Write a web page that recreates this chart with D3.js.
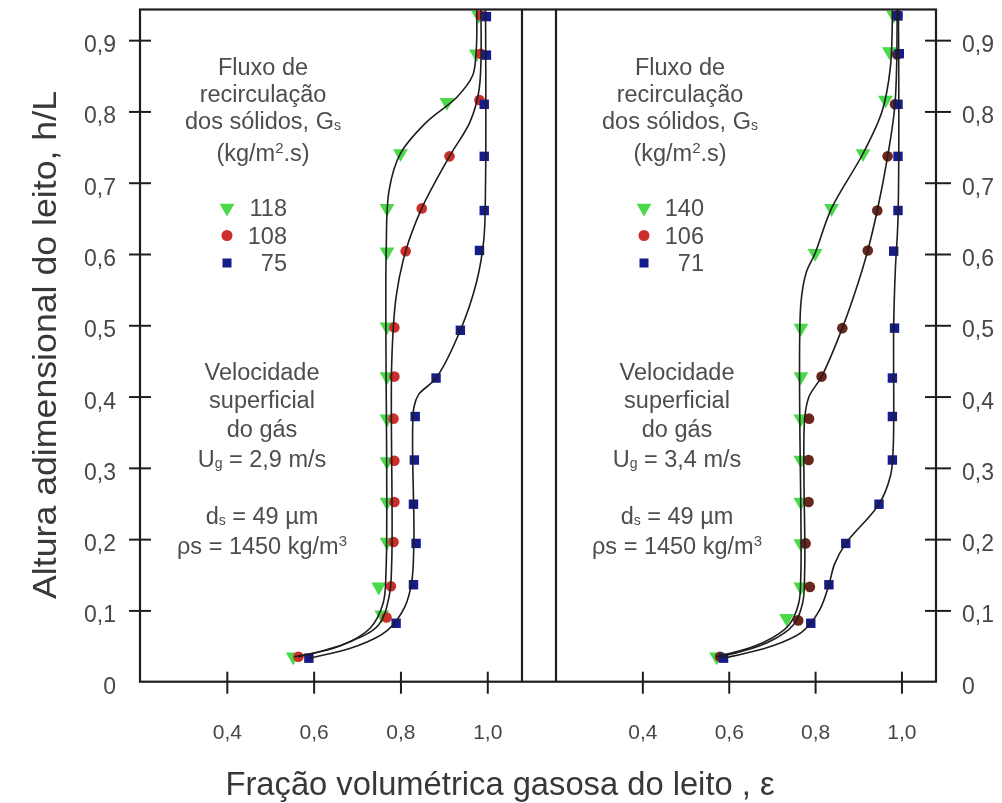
<!DOCTYPE html>
<html>
<head>
<meta charset="utf-8">
<script src="https://cdn.jsdelivr.net/npm/d3@7"></script>
<style>
  html, body { margin: 0; padding: 0; background: #fff; }
  svg { display: block; font-family: "Liberation Sans", Arial, Helvetica, sans-serif; }
</style>
</head>
<body>
<svg id="chart" width="1002" height="803"></svg>
<script>
// Void fraction (epsilon) versus dimensionless bed height (h/L), two gas velocities.

// ---- tick labels ----
const xTicks = [0.4, 0.6, 0.8, 1.0];
const xTickLabels = ["0,4", "0,6", "0,8", "1,0"];
const yTicks = [0, 0.1, 0.2, 0.3, 0.4, 0.5, 0.6, 0.7, 0.8, 0.9];
const yTickLabels = ["0", "0,1", "0,2", "0,3", "0,4", "0,5", "0,6", "0,7", "0,8", "0,9"];

// ---- series names (solids flux Gs, kg/m2.s) ----
const fluxLeft = ["118", "108", "75"];
const fluxRight = ["140", "106", "71"];

// ---- measured points [epsilon, h/L], Ug = 2,9 m/s ----
const ptsL118 = [[0.553,0.035],[0.757,0.094],[0.750,0.133],[0.769,0.196],[0.769,0.252],[0.769,0.309],[0.769,0.369],[0.769,0.428],[0.769,0.498],[0.769,0.603],[0.769,0.664],[0.800,0.741],[0.907,0.813],[0.975,0.881],[0.980,0.935]];
const ptsL108 = [[0.565,0.035],[0.768,0.090],[0.778,0.134],[0.784,0.196],[0.786,0.252],[0.786,0.310],[0.784,0.369],[0.786,0.428],[0.786,0.497],[0.812,0.604],[0.849,0.664],[0.913,0.737],[0.982,0.816],[0.985,0.881],[0.985,0.935]];
const ptsL75  = [[0.589,0.033],[0.790,0.082],[0.830,0.136],[0.836,0.194],[0.830,0.249],[0.832,0.311],[0.834,0.372],[0.882,0.426],[0.938,0.493],[0.982,0.605],[0.993,0.661],[0.993,0.737],[0.993,0.810],[0.998,0.879],[0.998,0.933]];

// ---- fitted profiles [epsilon, h/L], Ug = 2,9 m/s ----
const fitL118 = [[0.556,0.035],[0.66,0.050],[0.73,0.075],[0.760,0.110],[0.767,0.160],[0.767,0.600],[0.774,0.690],[0.800,0.741],[0.860,0.785],[0.930,0.820],[0.966,0.850],[0.974,0.880],[0.976,0.943]];
const fitL108 = [[0.565,0.035],[0.68,0.055],[0.750,0.080],[0.774,0.120],[0.780,0.170],[0.780,0.450],[0.790,0.540],[0.812,0.604],[0.849,0.664],[0.913,0.737],[0.960,0.785],[0.981,0.830],[0.985,0.943]];
const fitL75  = [[0.589,0.033],[0.70,0.050],[0.770,0.072],[0.810,0.105],[0.826,0.140],[0.831,0.200],[0.831,0.385],[0.842,0.403],[0.882,0.426],[0.938,0.493],[0.975,0.560],[0.992,0.620],[0.996,0.700],[0.996,0.943]];

// ---- measured points [epsilon, h/L], Ug = 3,4 m/s ----
const ptsR140 = [[0.572,0.035],[0.734,0.089],[0.767,0.133],[0.767,0.194],[0.767,0.252],[0.767,0.311],[0.767,0.369],[0.767,0.428],[0.767,0.496],[0.800,0.601],[0.838,0.664],[0.911,0.741],[0.963,0.816],[0.972,0.884],[0.982,0.935]];
const ptsR106 = [[0.580,0.035],[0.761,0.086],[0.788,0.133],[0.778,0.194],[0.785,0.252],[0.785,0.311],[0.786,0.369],[0.815,0.428],[0.863,0.496],[0.922,0.605],[0.944,0.661],[0.968,0.737],[0.985,0.810],[0.990,0.880],[0.990,0.935]];
const ptsR71  = [[0.588,0.033],[0.790,0.082],[0.832,0.136],[0.871,0.194],[0.948,0.249],[0.979,0.311],[0.979,0.372],[0.979,0.426],[0.984,0.496],[0.982,0.604],[0.992,0.661],[0.992,0.737],[0.992,0.810],[0.995,0.881],[0.992,0.934]];

// ---- fitted profiles [epsilon, h/L], Ug = 3,4 m/s ----
const fitR140 = [[0.572,0.035],[0.68,0.055],[0.740,0.080],[0.762,0.110],[0.767,0.150],[0.767,0.530],[0.780,0.575],[0.800,0.601],[0.838,0.664],[0.911,0.741],[0.955,0.800],[0.974,0.860],[0.979,0.943]];
const fitR106 = [[0.580,0.035],[0.69,0.055],[0.750,0.080],[0.771,0.110],[0.776,0.160],[0.776,0.370],[0.786,0.400],[0.815,0.428],[0.863,0.496],[0.900,0.560],[0.922,0.605],[0.944,0.661],[0.968,0.737],[0.985,0.810],[0.990,0.943]];
const fitR71  = [[0.588,0.033],[0.70,0.050],[0.770,0.070],[0.810,0.100],[0.832,0.136],[0.845,0.165],[0.871,0.194],[0.948,0.249],[0.975,0.290],[0.981,0.330],[0.982,0.500],[0.986,0.580],[0.992,0.650],[0.993,0.943]];

const svg = d3.select("#chart");

// geometry
const plotTop = 9.5, plotBottom = 681.7;
const y = d3.scaleLinear().domain([0, 0.943]).range([plotBottom, plotTop]);
const xL = d3.scaleLinear().domain([0.2, 1.08]).range([140, 522]);
const xR = d3.scaleLinear().domain([0.2, 1.08]).range([556, 936]);

const ink = "#1e1e1e";
const labelInk = "#474747";
const textInk = "#4d4d4d";
const green = "#48d948", red = "#cc2e2a", darkRed = "#6a281c", blue = "#151a8c";
const fontStack = "Liberation Sans, Arial, sans-serif";

// soft rendering filter for marks
const defs = svg.append("defs");
defs.append("filter").attr("id", "soft").attr("x", "-20%").attr("y", "-20%").attr("width", "140%").attr("height", "140%")
  .append("feGaussianBlur").attr("stdDeviation", 0.6);
defs.append("filter").attr("id", "softText").attr("x", "-5%").attr("y", "-20%").attr("width", "110%").attr("height", "140%")
  .append("feGaussianBlur").attr("stdDeviation", 0.5);

// ---- frame ----
const frame = svg.append("g").attr("stroke", ink).attr("stroke-width", 2.2).attr("fill", "none");
frame.append("rect").attr("x", xL.range()[0]).attr("y", plotTop).attr("width", xR.range()[1] - xL.range()[0]).attr("height", plotBottom - plotTop);
frame.append("line").attr("x1", xL.range()[1]).attr("x2", xL.range()[1]).attr("y1", plotTop).attr("y2", plotBottom);
frame.append("line").attr("x1", xR.range()[0]).attr("x2", xR.range()[0]).attr("y1", plotTop).attr("y2", plotBottom);

// ---- x axes ----
function xAxis(scale) {
  const g = svg.append("g").attr("transform", `translate(0,${plotBottom})`);
  g.call(d3.axisBottom(scale).tickValues(xTicks).tickSize(12)
      .tickFormat((d, i) => xTickLabels[i]));
  g.select(".domain").remove();
  g.selectAll(".tick line").attr("stroke", ink).attr("stroke-width", 2).attr("y1", -10).attr("y2", 12);
  g.selectAll(".tick text").attr("fill", labelInk).attr("font-size", 21).attr("y", 0).attr("dy", 57)
    .attr("font-family", fontStack).attr("filter", "url(#softText)");
}
xAxis(xL);
xAxis(xR);

// ---- y axes (left and right) ----
const gl = svg.append("g").attr("transform", `translate(${xL.range()[0]},0)`);
gl.call(d3.axisLeft(y).tickValues(yTicks).tickSize(11).tickFormat((d, i) => yTickLabels[i]));
gl.select(".domain").remove();
gl.selectAll(".tick line").attr("stroke", ink).attr("stroke-width", 2).attr("x2", d => d > 0 ? -11 : 0).attr("x1", d => d > 0 ? 11 : 0);
gl.selectAll(".tick text").attr("fill", labelInk).attr("font-size", 23).attr("x", -24).attr("dy", "0.5em")
  .attr("font-family", fontStack).attr("filter", "url(#softText)");

const gr = svg.append("g").attr("transform", `translate(${xR.range()[1]},0)`);
gr.call(d3.axisRight(y).tickValues(yTicks).tickSize(11).tickFormat((d, i) => yTickLabels[i]));
gr.select(".domain").remove();
gr.selectAll(".tick line").attr("stroke", ink).attr("stroke-width", 2).attr("x1", d => d > 0 ? -11 : 0).attr("x2", d => d > 0 ? 15 : 0);
gr.selectAll(".tick text").attr("fill", labelInk).attr("font-size", 23).attr("x", 26).attr("dy", "0.5em")
  .attr("font-family", fontStack).attr("filter", "url(#softText)");

// ---- markers ----
const triDown = d3.symbol().type(d3.symbolTriangle).size(95);
function drawPoints(pts, scale, shape, color) {
  const g = svg.append("g").attr("filter", "url(#soft)");
  pts.forEach(([e, h]) => {
    const cx = scale(e), cy = y(h);
    if (shape === "tri") {
      g.append("path").attr("d", triDown()).attr("transform", `translate(${cx},${cy}) rotate(180)`).attr("fill", color);
    } else if (shape === "circ") {
      g.append("circle").attr("cx", cx).attr("cy", cy).attr("r", 5.3).attr("fill", color);
    } else {
      g.append("rect").attr("x", cx - 4.7).attr("y", cy - 4.7).attr("width", 9.4).attr("height", 9.4).attr("fill", color);
    }
  });
}

// ---- fitted curves ----
function drawFit(fit, scale) {
  const line = d3.line().x(d => scale(d[0])).y(d => y(d[1])).curve(d3.curveCatmullRom.alpha(0.5));
  svg.append("path").attr("d", line(fit)).attr("fill", "none").attr("stroke", ink).attr("stroke-width", 1.6);
}

drawPoints(ptsL118, xL, "tri", green);
drawPoints(ptsL108, xL, "circ", red);
drawPoints(ptsL75, xL, "sq", blue);
drawPoints(ptsR140, xR, "tri", green);
drawPoints(ptsR106, xR, "circ", darkRed);
drawPoints(ptsR71, xR, "sq", blue);

[fitL118, fitL108, fitL75].forEach(f => drawFit(f, xL));
[fitR140, fitR106, fitR71].forEach(f => drawFit(f, xR));

// ---- annotation blocks ----
function textBlock(cx, lines) {
  const g = svg.append("g").attr("fill", textInk).attr("font-size", 23.5).attr("text-anchor", "middle").attr("filter", "url(#softText)");
  lines.forEach(l => {
    const t = g.append("text").attr("x", cx).attr("y", l.y);
    l.parts.forEach(p => {
      const s = t.append("tspan").text(p.t);
      if (p.sub) s.attr("font-size", 14).attr("baseline-shift", "-1");
      if (p.sup) s.attr("font-size", 15).attr("baseline-shift", "8");
    });
  });
}

function legend(cx, names, colors) {
  textBlock(cx, [
    { y: 75, parts: [{ t: "Fluxo de" }] },
    { y: 102, parts: [{ t: "recirculação" }] },
    { y: 129, parts: [{ t: "dos sólidos, G" }, { t: "s", sub: true }] },
    { y: 161, parts: [{ t: "(kg/m" }, { t: "2", sup: true }, { t: ".s)" }] }
  ]);
  const shapes = ["tri", "circ", "sq"];
  const g = svg.append("g").attr("filter", "url(#softText)");
  names.forEach((n, i) => {
    const yy = 208 + i * 27.5;
    const mx = cx - 36;
    if (shapes[i] === "tri") g.append("path").attr("d", triDown()).attr("transform", `translate(${mx},${yy}) rotate(180)`).attr("fill", colors[i]);
    else if (shapes[i] === "circ") g.append("circle").attr("cx", mx).attr("cy", yy).attr("r", 5.5).attr("fill", colors[i]);
    else g.append("rect").attr("x", mx - 4.5).attr("y", yy - 4.5).attr("width", 9).attr("height", 9).attr("fill", colors[i]);
    g.append("text").attr("x", cx + 24).attr("y", yy).attr("dy", "0.36em").attr("text-anchor", "end")
      .attr("font-size", 23.5).attr("fill", textInk).text(n);
  });
}

legend(263, fluxLeft, [green, red, blue]);
legend(680, fluxRight, [green, red, blue]);

function conditions(cx, ug) {
  textBlock(cx, [
    { y: 380, parts: [{ t: "Velocidade" }] },
    { y: 408, parts: [{ t: "superficial" }] },
    { y: 437, parts: [{ t: "do gás" }] },
    { y: 467, parts: [{ t: "U" }, { t: "g", sub: true }, { t: " = " + ug + " m/s" }] },
    { y: 524, parts: [{ t: "d" }, { t: "s", sub: true }, { t: " = 49 µm" }] },
    { y: 554, parts: [{ t: "ρs = 1450 kg/m" }, { t: "3", sup: true }] }
  ]);
}
conditions(262, "2,9");
conditions(677, "3,4");

// ---- axis titles ----
svg.append("text").attr("x", 500).attr("y", 795).attr("text-anchor", "middle")
  .attr("font-size", 34).attr("fill", "#383838").attr("textLength", 549).attr("lengthAdjust", "spacingAndGlyphs")
  .attr("filter", "url(#softText)")
  .text("Fração volumétrica gasosa do leito , ε");

svg.append("text").attr("transform", "translate(56,345) rotate(-90)").attr("text-anchor", "middle")
  .attr("font-size", 33).attr("fill", "#383838").attr("textLength", 508).attr("lengthAdjust", "spacingAndGlyphs")
  .attr("filter", "url(#softText)")
  .text("Altura adimensional do leito, h/L");
</script>
</body>
</html>
